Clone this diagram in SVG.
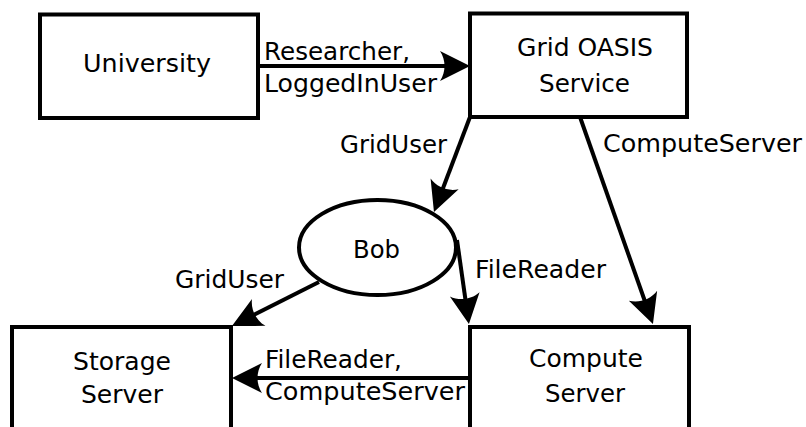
<svg xmlns="http://www.w3.org/2000/svg" width="806" height="427" viewBox="0 0 806 427">
  <style>
    .box { fill: #ffffff; stroke: #000000; stroke-width: 4; }
    .node-text { font-family: "DejaVu Sans", "Liberation Sans", sans-serif; font-size: 25px; fill: #000000; text-anchor: middle; }
    .edge { fill: none; stroke: #000000; stroke-width: 4; marker-end: url(#ah); }
    .edge-label { font-family: "DejaVu Sans", "Liberation Sans", sans-serif; font-size: 24.5px; fill: #000000; }
  </style>
  <defs>
    <!-- concave arrowhead; tip sits 8px beyond the line end -->
    <marker id="ah" markerUnits="userSpaceOnUse" viewBox="-32 -16 34 32" refX="-8" refY="0" markerWidth="34" markerHeight="32" orient="auto" overflow="visible">
      <path d="M0,0 L-30,-15 C-24,-6 -24,6 -30,15 Z" fill="#000000"/>
    </marker>
  </defs>
  <rect width="806" height="427" fill="#ffffff"/>

  <g id="connectors">
    <line class="edge" x1="258" y1="66" x2="462" y2="66"/>
    <line class="edge" x1="470" y1="117" x2="436.8" y2="204.5"/>
    <line class="edge" x1="580" y1="117" x2="650.3" y2="316.5"/>
    <line class="edge" x1="319" y1="282" x2="239.1" y2="322.4"/>
    <line class="edge" x1="457" y1="240" x2="467.8" y2="316.1"/>
    <line class="edge" x1="470" y1="378" x2="240" y2="378"/>

    <text class="edge-label" x="264" y="60" textLength="146" lengthAdjust="spacingAndGlyphs">Researcher,</text>
    <text class="edge-label" x="264" y="92" textLength="173" lengthAdjust="spacingAndGlyphs">LoggedInUser</text>
    <text class="edge-label" x="340" y="153" textLength="107" lengthAdjust="spacingAndGlyphs">GridUser</text>
    <text class="edge-label" x="603" y="152" textLength="199" lengthAdjust="spacingAndGlyphs">ComputeServer</text>
    <text class="edge-label" x="175" y="288" textLength="109" lengthAdjust="spacingAndGlyphs">GridUser</text>
    <text class="edge-label" x="475" y="278" textLength="131" lengthAdjust="spacingAndGlyphs">FileReader</text>
    <text class="edge-label" x="265" y="368" textLength="137" lengthAdjust="spacingAndGlyphs">FileReader,</text>
    <text class="edge-label" x="265" y="400" textLength="200" lengthAdjust="spacingAndGlyphs">ComputeServer</text>
  </g>

  <g id="university">
    <rect class="box" x="40" y="14.5" width="218" height="103.5"/>
    <text class="node-text" x="147" y="72" textLength="128" lengthAdjust="spacingAndGlyphs">University</text>
  </g>

  <g id="grid-oasis-service">
    <rect class="box" x="470" y="13.5" width="217" height="103.5"/>
    <text class="node-text" x="585" y="56" textLength="136" lengthAdjust="spacingAndGlyphs">Grid OASIS</text>
    <text class="node-text" x="584.5" y="92" textLength="91" lengthAdjust="spacingAndGlyphs">Service</text>
  </g>

  <g id="bob">
    <ellipse class="box" cx="377.5" cy="247.5" rx="78.5" ry="47.5"/>
    <text class="node-text" x="376.5" y="258" textLength="47" lengthAdjust="spacingAndGlyphs">Bob</text>
  </g>

  <g id="storage-server">
    <rect class="box" x="12" y="327" width="219" height="120"/>
    <text class="node-text" x="122" y="370" textLength="98" lengthAdjust="spacingAndGlyphs">Storage</text>
    <text class="node-text" x="122" y="403" textLength="82" lengthAdjust="spacingAndGlyphs">Server</text>
  </g>

  <g id="compute-server">
    <rect class="box" x="470" y="327" width="219" height="120"/>
    <text class="node-text" x="586" y="367" textLength="114" lengthAdjust="spacingAndGlyphs">Compute</text>
    <text class="node-text" x="585" y="402" textLength="80" lengthAdjust="spacingAndGlyphs">Server</text>
  </g>
</svg>
